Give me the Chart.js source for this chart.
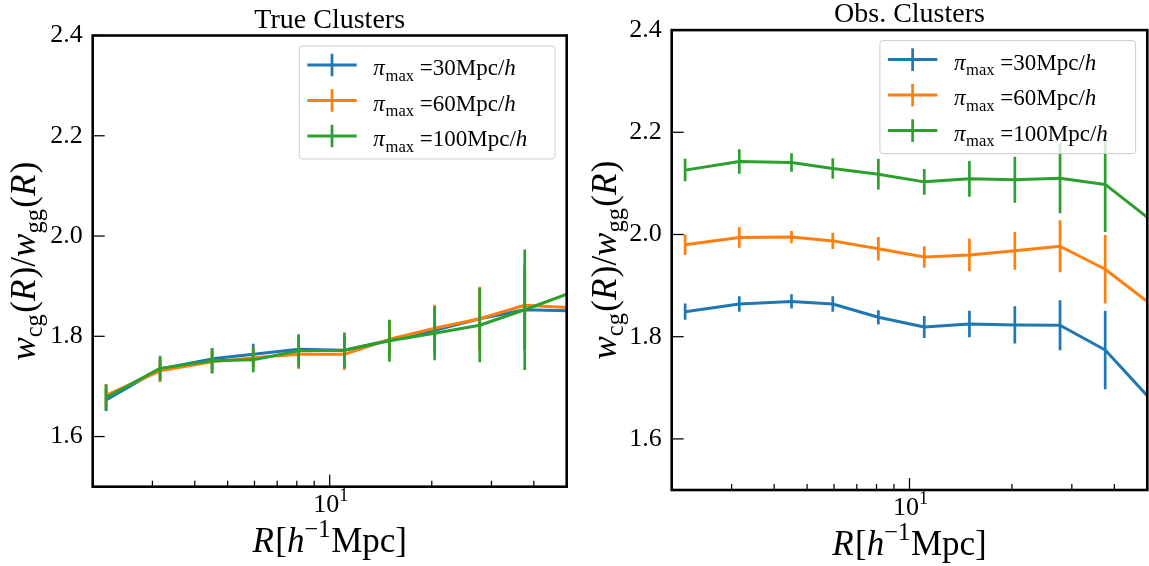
<!DOCTYPE html>
<html>
<head>
<meta charset="utf-8">
<script src="https://cdn.jsdelivr.net/npm/chart.js@4.4.1/dist/chart.umd.min.js"></script>
<style>
  html, body { margin: 0; padding: 0; background: #ffffff; }
  #wrap { position: relative; width: 1149px; height: 566px; overflow: hidden; }
  canvas { position: absolute; top: 0; }
</style>
</head>
<body>
<div id="wrap">
  <canvas id="cTrue" width="575" height="566" style="left:0px"></canvas>
  <canvas id="cObs" width="574" height="566" style="left:575px"></canvas>
</div>
<script>
// ---------------- data ----------------
const R = [2.19, 3.16, 4.5, 5.95, 8.1, 11.05, 15.0, 20.4, 27.7, 37.6, 51.5];

const trueW30  = [1.673, 1.735, 1.755, 1.764, 1.774, 1.772, 1.792, 1.812, 1.835, 1.853, 1.851];
const trueW60  = [1.682, 1.731, 1.749, 1.757, 1.764, 1.764, 1.794, 1.816, 1.835, 1.862, 1.857];
const trueW100 = [1.678, 1.736, 1.751, 1.753, 1.771, 1.772, 1.791, 1.806, 1.822, 1.853, 1.887];
const trueE30  = [0.022, 0.021, 0.021, 0.021, 0.028, 0.030, 0.036, 0.046, 0.063, 0.080, 0.120];
const trueE60  = [0.023, 0.022, 0.022, 0.021, 0.029, 0.031, 0.037, 0.047, 0.064, 0.082, 0.125];
const trueE100 = [0.026, 0.025, 0.025, 0.0245, 0.033, 0.0355, 0.042, 0.054, 0.074, 0.120, 0.150];

const obsW30  = [1.849, 1.864, 1.869, 1.864, 1.838, 1.819, 1.825, 1.823, 1.8225, 1.774, 1.675];
const obsW60  = [1.980, 1.994, 1.995, 1.9875, 1.972, 1.956, 1.960, 1.968, 1.977, 1.932, 1.862];
const obsW100 = [2.126, 2.143, 2.141, 2.129, 2.118, 2.103, 2.109, 2.107, 2.110, 2.098, 2.027];
const obsE30  = [0.016, 0.015, 0.014, 0.015, 0.014, 0.0215, 0.026, 0.0365, 0.049, 0.077, 0.090];
const obsE60  = [0.020, 0.020, 0.012, 0.016, 0.023, 0.021, 0.032, 0.037, 0.051, 0.067, 0.080];
const obsE100 = [0.022, 0.024, 0.018, 0.020, 0.030, 0.025, 0.035, 0.045, 0.0685, 0.093, 0.110];

const piMaxValues = ['30', '60', '100'];
const yTickValues = [1.6, 1.8, 2.0, 2.2, 2.4];
const xMinorTicks = [2, 3, 4, 5, 6, 7, 8, 9, 20, 30, 40, 50];
const xMajorTicks = [10];
const titles = ['True Clusters', 'Obs. Clusters'];

// ---------------- style ----------------
const COLORS = ['#1f77b4', '#ff7f0e', '#2ca02c'];
const SERIF = '"Liberation Serif", "Times New Roman", serif';

function font(size, italic) {
  return (italic ? 'italic ' : '') + size + 'px ' + SERIF;
}

// runs: {t, it, s (scale), dy (em, +down)}
function measureRuns(ctx, runs, F) {
  let w = 0;
  for (const r of runs) {
    ctx.font = font(F * (r.s || 1), r.it);
    w += ctx.measureText(r.t).width + (r.gap || 0) * F;
  }
  return w;
}
function drawRuns(ctx, runs, x, y, F, align) {
  const total = measureRuns(ctx, runs, F);
  let cx = align === 'center' ? x - total / 2 : x;
  ctx.textBaseline = 'alphabetic';
  ctx.textAlign = 'left';
  for (const r of runs) {
    ctx.font = font(F * (r.s || 1), r.it);
    ctx.fillText(r.t, cx, y + (r.dy || 0) * F);
    cx += ctx.measureText(r.t).width + (r.gap || 0) * F;
  }
}

const yLabelRuns = [
  {t: 'w', it: true}, {t: 'cg', s: 0.7, dy: 0.22, gap: 0.04}, {t: '('}, {t: 'R', it: true, gap: 0.04}, {t: ')'}, {t: '/'},
  {t: 'w', it: true}, {t: 'gg', s: 0.7, dy: 0.22, gap: 0.04}, {t: '('}, {t: 'R', it: true, gap: 0.04}, {t: ')'}
];
const xLabelRuns = [
  {t: 'R', it: true, gap: 0.04}, {t: '['}, {t: 'h', it: true}, {t: '\u22121', s: 0.7, dy: -0.42, gap: 0.02}, {t: 'Mpc'}, {t: ']'}
];
const xTickRuns = [{t: '10'}, {t: '1', s: 0.7, dy: -0.42}];

const decorPlugin = {
  id: 'decor',
  afterDatasetDraw(chart, args) {
    const ds = chart.data.datasets[args.index];
    if (!ds.errors) return;
    const ctx = chart.ctx, a = chart.chartArea;
    const xs = chart.scales.x, ys = chart.scales.y;
    ctx.save();
    ctx.beginPath();
    ctx.rect(a.left, a.top, a.right - a.left, a.bottom - a.top);
    ctx.clip();
    ctx.strokeStyle = ds.borderColor;
    ctx.lineWidth = 2.7;
    ctx.lineCap = 'butt';
    ds.data.forEach((p, i) => {
      const e = ds.errors[i];
      const px = xs.getPixelForValue(p.x);
      ctx.beginPath();
      ctx.moveTo(px, ys.getPixelForValue(p.y - e));
      ctx.lineTo(px, ys.getPixelForValue(p.y + e));
      ctx.stroke();
    });
    ctx.restore();
  },
  afterDraw(chart) {
    const ctx = chart.ctx, a = chart.chartArea;
    const xs = chart.scales.x, ys = chart.scales.y;
    const cfg = chart.options.plugins.decor;
    ctx.save();
    ctx.fillStyle = '#000';
    ctx.strokeStyle = '#000';
    // inward ticks
    ctx.lineWidth = 1.25;
    xMinorTicks.forEach(v => {
      const px = xs.getPixelForValue(v);
      ctx.beginPath(); ctx.moveTo(px, a.bottom); ctx.lineTo(px, a.bottom - 6); ctx.stroke();
    });
    xMajorTicks.forEach(v => {
      const px = xs.getPixelForValue(v);
      ctx.beginPath(); ctx.moveTo(px, a.bottom); ctx.lineTo(px, a.bottom - 12); ctx.stroke();
    });
    yTickValues.forEach(v => {
      const py = ys.getPixelForValue(v);
      ctx.beginPath(); ctx.moveTo(a.left, py); ctx.lineTo(a.left + 12, py); ctx.stroke();
    });
    // frame
    ctx.lineWidth = 2.6;
    ctx.strokeRect(a.left, a.top, a.right - a.left, a.bottom - a.top);
    const cx = (a.left + a.right) / 2;
    // x tick label 10^1
    xMajorTicks.forEach(v => {
      drawRuns(ctx, xTickRuns, xs.getPixelForValue(v) + 1, a.bottom + 25, 26, 'center');
    });
    // title
    ctx.font = font(28, false);
    ctx.textAlign = 'center';
    ctx.textBaseline = 'alphabetic';
    ctx.fillText(cfg.title, cx, a.top - 8);
    // x label
    drawRuns(ctx, xLabelRuns, cx, a.bottom + 65, 35, 'center');
    // y label
    ctx.save();
    ctx.translate(a.left - cfg.yLabelOffset, (a.top + a.bottom) / 2);
    ctx.rotate(-Math.PI / 2);
    drawRuns(ctx, yLabelRuns, 0, 0, 35, 'center');
    ctx.restore();
    // legend
    const bw = 255.7, bh = 113;
    const bx = a.right - 11.7 - bw, by = a.top + 10.5;
    ctx.beginPath();
    if (ctx.roundRect) ctx.roundRect(bx, by, bw, bh, 3); else ctx.rect(bx, by, bw, bh);
    ctx.fillStyle = 'rgba(255,255,255,0.8)';
    ctx.fill();
    ctx.strokeStyle = '#cccccc';
    ctx.lineWidth = 1;
    ctx.stroke();
    chart.data.datasets.forEach((ds, i) => {
      const ry = by + 19 + i * 35.5;
      ctx.strokeStyle = ds.borderColor;
      ctx.lineWidth = 3;
      ctx.lineCap = 'butt';
      ctx.beginPath(); ctx.moveTo(bx + 8, ry); ctx.lineTo(bx + 57.4, ry); ctx.stroke();
      ctx.lineWidth = 2.7;
      ctx.beginPath(); ctx.moveTo(bx + 32.7, ry - 11.3); ctx.lineTo(bx + 32.7, ry + 11.3); ctx.stroke();
      ctx.fillStyle = '#000';
      drawRuns(ctx, [
        {t: '\u03c0', it: true, gap: 0.03}, {t: 'max', s: 0.72, dy: 0.25},
        {t: ' =' + piMaxValues[i] + 'Mpc/'}, {t: 'h', it: true}
      ], bx + 74, ry + 10, 23, 'left');
    });
    ctx.restore();
  }
};

function makeChart(id, title, vals, errs, geom) {
  const datasets = vals.map((arr, k) => ({
    label: '\u03c0max =' + piMaxValues[k] + 'Mpc/h',
    data: R.map((r, i) => ({x: r, y: arr[i]})),
    errors: errs[k],
    borderColor: COLORS[k],
    backgroundColor: COLORS[k],
    borderWidth: 3,
    pointRadius: 0,
    pointHoverRadius: 0,
    tension: 0,
    fill: false,
    clip: 0,
    borderJoinStyle: 'round',
    order: 2 - k
  }));
  return new Chart(document.getElementById(id), {
    type: 'line',
    data: { datasets },
    options: {
      responsive: false,
      animation: false,
      events: [],
      layout: { autoPadding: false, padding: { left: 0, top: geom.top, right: geom.right, bottom: 0 } },
      plugins: {
        legend: { display: false },
        title: { display: false },
        tooltip: { enabled: false },
        decor: { title, yLabelOffset: geom.yLabelOffset }
      },
      scales: {
        x: {
          type: 'logarithmic', min: 2, max: 50,
          grid: { display: false, drawTicks: false },
          border: { display: false },
          ticks: { display: false },
          afterFit: s => { s.height = geom.bottom; }
        },
        y: {
          type: 'linear', min: 1.5, max: 2.4,
          grid: { display: false, drawTicks: false },
          border: { display: false },
          afterBuildTicks: s => { s.ticks = yTickValues.map(v => ({ value: v })); },
          ticks: {
            color: '#000', padding: 10,
            font: { family: SERIF, size: 26 },
            callback: v => Number(v).toFixed(1)
          },
          afterFit: s => { s.width = geom.left; }
        }
      }
    },
    plugins: [decorPlugin]
  });
}

makeChart('cTrue', titles[0], [trueW30, trueW60, trueW100], [trueE30, trueE60, trueE100],
  { left: 92.7, right: 8.3, top: 35.5, bottom: 79.3, yLabelOffset: 58 });
makeChart('cObs', titles[1], [obsW30, obsW60, obsW100], [obsE30, obsE60, obsE100],
  { left: 96.7, right: 1.7, top: 30.1, bottom: 76, yLabelOffset: 56 });
</script>
</body>
</html>
